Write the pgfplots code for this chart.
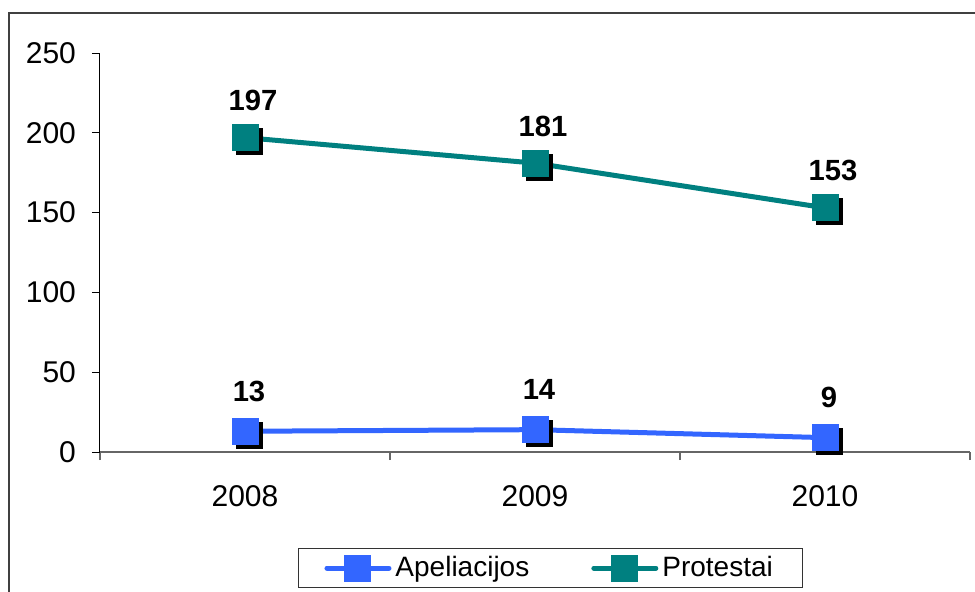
\documentclass[border=0pt]{standalone}
\usepackage{pgfplots}
\pgfplotsset{compat=1.18}
\usepackage{fontspec}
\setmainfont{Liberation Sans}
\definecolor{tealc}{HTML}{008080}
\definecolor{bluec}{HTML}{3366FF}
\begin{document}
\begin{tikzpicture}
\useasboundingbox (0,0) rectangle (487.5pt,295.5pt);
\draw[black!75, line width=0.6pt] (4.5pt,-10pt) -- (4.5pt,289pt) -- (500pt,289pt);
\begin{axis}[
  at={(50pt,69.5pt)}, anchor=south west,
  scale only axis, width=435pt, height=199.5pt,
  xmin=-0.5, xmax=2.5, ymin=0, ymax=250,
  axis x line*=bottom, axis y line*=left,
  x axis line style={black!60, line width=1pt, -},
  y axis line style={black, line width=0.5pt, -},
  xtick={0,1,2}, xticklabels={2008,2009,2010},
  major x tick style={draw=none},
  minor xtick={-0.5,0.5,1.5,2.5}, minor tick length=4pt,
  minor x tick style={black!60, line width=0.8pt},
  ytick={0,50,...,250}, major tick length=4pt, tick align=outside,
  y tick style={black, line width=0.5pt},
  tick label style={font=\fontsize{15}{18}\selectfont},
  /pgf/number format/assume math mode=true,
  xticklabel style={anchor=center, yshift=-18pt},
  yticklabel style={anchor=east, xshift=-4.5pt},
  clip=false,
  legend columns=2,
  legend style={at={(axis description cs:0.518,-0.291)}, anchor=center,
    draw=black!80, line width=0.5pt, font=\fontsize{14}{17}\selectfont,
    inner xsep=13pt,
    /tikz/every even column/.append style={column sep=29pt}},
  legend image code/.code={\draw[mark repeat=2,mark phase=2,#1,line cap=round] plot coordinates {(0pt,0pt) (15.5pt,0pt) (31pt,0pt)};},
]
\addplot[forget plot, only marks, mark=square*, mark size=6.5pt, black, xshift=2pt, yshift=-2pt] coordinates {(0,13)(1,14)(2,9)};
\addplot[bluec, line width=2.5pt, mark=square*, mark size=6.5pt, mark options={solid, line width=0pt},
  nodes near coords, nodes near coords style={font=\bfseries\fontsize{14.6}{17}\selectfont, text=black, anchor=center, yshift=20pt, xshift=2pt}]
  coordinates {(0,13)(1,14)(2,9)};
\addlegendentry{Apeliacijos}
\addplot[forget plot, only marks, mark=square*, mark size=6.5pt, black, xshift=2pt, yshift=-2pt] coordinates {(0,197)(1,181)(2,153)};
\addplot[tealc, line width=2.5pt, mark=square*, mark size=6.5pt, mark options={solid, line width=0pt},
  nodes near coords, nodes near coords style={font=\bfseries\fontsize{14.6}{17}\selectfont, text=black, anchor=center, yshift=18.5pt, xshift=4pt}]
  coordinates {(0,197)(1,181)(2,153)};
\addlegendentry{Protestai}
\end{axis}
\end{tikzpicture}
\end{document}
